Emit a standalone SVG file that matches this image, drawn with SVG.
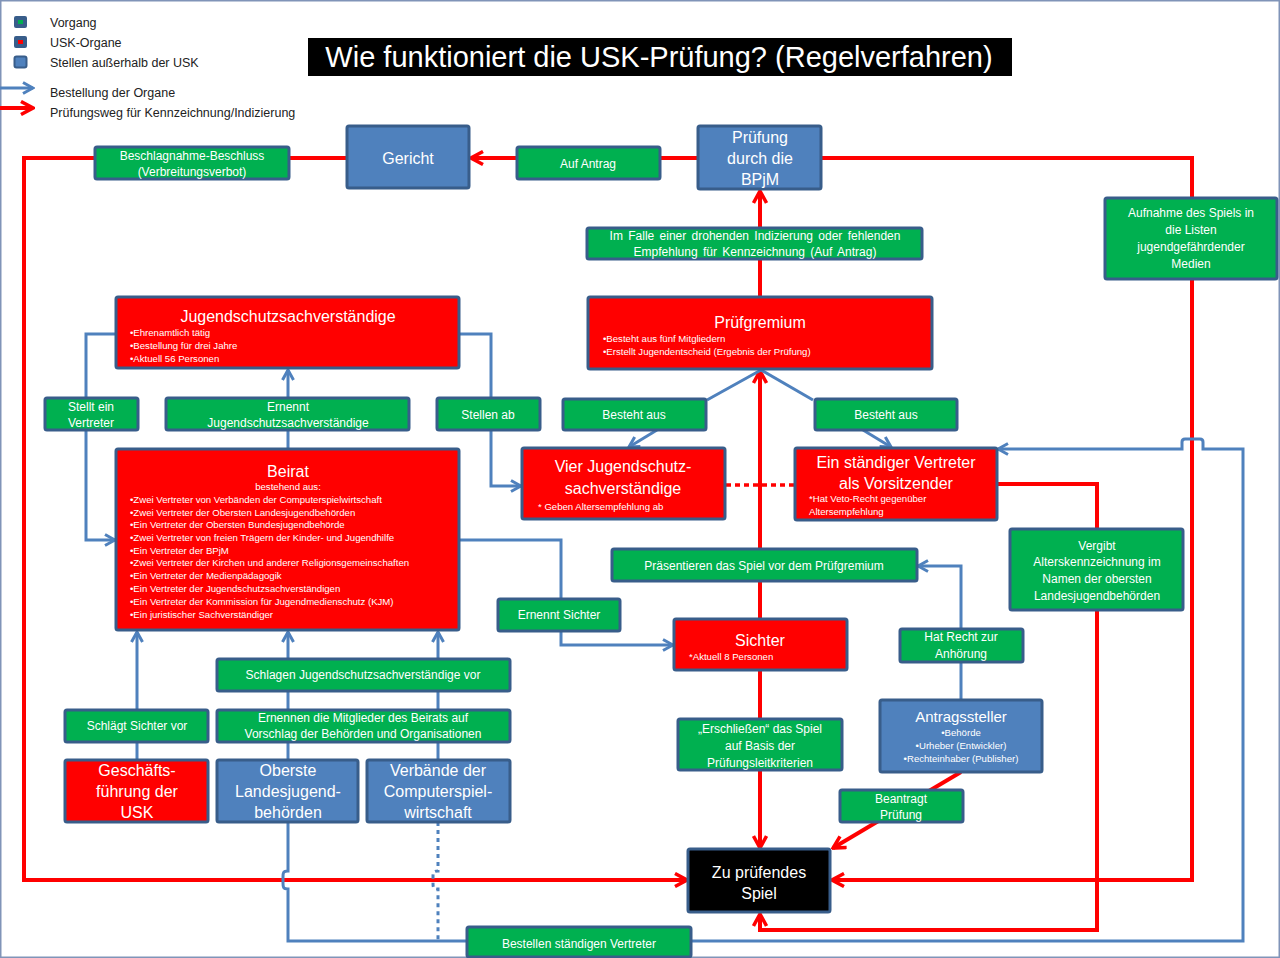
<svg xmlns="http://www.w3.org/2000/svg" width="1280" height="958" viewBox="0 0 1280 958">
<defs>
<marker id="ab" viewBox="0 0 14 14" refX="12" refY="7" markerWidth="14" markerHeight="14" markerUnits="userSpaceOnUse" orient="auto"><path d="M2,1.5 L12,7 L2,12.5" fill="none" stroke="#4F81BD" stroke-width="3"/></marker>
<marker id="ar" viewBox="0 0 16 16" refX="14" refY="8" markerWidth="16" markerHeight="16" markerUnits="userSpaceOnUse" orient="auto"><path d="M2,1.5 L14,8 L2,14.5" fill="none" stroke="#FF0000" stroke-width="3.5"/></marker>
<style>
text{font-family:"Liberation Sans",Arial,sans-serif;fill:#FFFFFF}
.g{fill:#00B050;stroke:#385D8A;stroke-width:3}
.r{fill:#FF0000;stroke:#385D8A;stroke-width:3}
.b{fill:#4F81BD;stroke:#385D8A;stroke-width:3}
.k{fill:#000000;stroke:#385D8A;stroke-width:3}
.t12{font-size:12px;text-anchor:middle}
.t16{font-size:16px;text-anchor:middle}
.s9{font-size:9.6px}
.lg{font-size:12.5px;fill:#222222}
.rl{fill:none;stroke:#FF0000;stroke-width:4}
.bl{fill:none;stroke:#4F81BD;stroke-width:3}
</style>
</defs>
<rect x="0.5" y="0.5" width="1279" height="957" fill="#FFFFFF" stroke="#8094B8" stroke-width="2"/>

<g id="legend">
<rect x="14" y="16" width="13" height="12" rx="2" fill="#385D8A"/><rect x="18" y="20" width="5" height="4" fill="#00B050"/>
<rect x="14" y="36" width="13" height="12" rx="2" fill="#385D8A"/><rect x="18" y="40" width="5" height="4" fill="#FF0000"/>
<rect x="14.5" y="56.5" width="12" height="11" rx="2" fill="#4F81BD" stroke="#385D8A" stroke-width="2"/>
<text class="lg" x="50" y="27">Vorgang</text>
<text class="lg" x="50" y="47">USK-Organe</text>
<text class="lg" x="50" y="67">Stellen außerhalb  der USK</text>
<path d="M0,88 L33,88" class="bl" marker-end="url(#ab)"/>
<path d="M0,108 L33,108" class="rl" marker-end="url(#ar)"/>
<text class="lg" x="50" y="97">Bestellung der Organe</text>
<text class="lg" x="50" y="117">Prüfungsweg für Kennzeichnung/Indizierung</text>
</g>

<g id="title">
<rect x="308" y="38" width="704" height="38" fill="#000000"/>
<text x="659" y="67" font-size="29" text-anchor="middle">Wie funktioniert die USK-Prüfung? (Regelverfahren)</text>
</g>

<g id="connectors">
<path class="rl" d="M698,158 L471,158" marker-end="url(#ar)"/>
<path class="rl" d="M347,158 L24,158 L24,880 L687,880" marker-end="url(#ar)"/>
<path class="rl" d="M821,158 L1192,158 L1192,880 L832,880" marker-end="url(#ar)"/>
<path class="rl" d="M760,297 L760,191" marker-end="url(#ar)"/>
<path class="rl" d="M760,619 L760,371" marker-end="url(#ar)"/>
<path class="rl" d="M760,670 L760,848" marker-end="url(#ar)"/>
<path class="rl" d="M961,772 L833,848" marker-end="url(#ar)"/>
<path class="rl" d="M997,484 L1097,484 L1097,930 L760,930 L760,914" marker-end="url(#ar)"/>
<path d="M726,485 L795,485" fill="none" stroke="#FF0000" stroke-width="3.5" stroke-dasharray="5,4"/>

<path class="bl" d="M116,334 L86,334 L86,540 L115,540" marker-end="url(#ab)"/>
<path class="bl" d="M288,449 L288,370" marker-end="url(#ab)"/>
<path class="bl" d="M459,334 L491,334 L491,486 L521,486" marker-end="url(#ab)"/>
<path class="bl" d="M761,370 L707,400"/>
<path class="bl" d="M657,430 L629,447" marker-end="url(#ab)"/>
<path class="bl" d="M761,370 L813,400"/>
<path class="bl" d="M863,430 L891,447" marker-end="url(#ab)"/>
<path class="bl" d="M459,540 L561,540 L561,645 L673,645" marker-end="url(#ab)"/>
<path class="bl" d="M961,700 L961,566 L918,566" marker-end="url(#ab)"/>
<path class="bl" d="M137,760 L137,632" marker-end="url(#ab)"/>
<path class="bl" d="M288,760 L288,632" marker-end="url(#ab)"/>
<path class="bl" d="M438,760 L438,632" marker-end="url(#ab)"/>
<path class="bl" d="M288,822 L288,871 C283,871 283,873 283,877 L283,883 C283,887 283,889 288,889 L288,941 L1243,941 L1243,449 L1203,449 L1203,442 Q1203,439 1200,439 L1185,439 Q1182,439 1182,442 L1182,449 L998,449" marker-end="url(#ab)"/>
<path class="bl" d="M438,822 L438,871 C433,871 433,873 433,877 L433,883 C433,887 433,889 438,889 L438,941" stroke-dasharray="4,4"/>
</g>

<g id="gericht"><rect class="b" x="347" y="126" width="122" height="62" rx="2"/><text class="t16" x="408" y="164">Gericht</text></g>
<g id="beschlagnahme"><rect class="g" x="95" y="147" width="194" height="32" rx="2"/><text class="t12" x="192" y="160">Beschlagnahme-Beschluss</text><text class="t12" x="192" y="176">(Verbreitungsverbot)</text></g>
<g id="auf-antrag"><rect class="g" x="517" y="147" width="143" height="32" rx="2"/><text class="t12" x="588" y="168">Auf Antrag</text></g>
<g id="bpjm"><rect class="b" x="698" y="126" width="123" height="63" rx="2"/><text class="t16" x="760" y="143">Prüfung</text><text class="t16" x="760" y="164">durch die</text><text class="t16" x="760" y="185">BPjM</text></g>
<g id="im-falle"><rect class="g" x="587" y="228" width="335" height="31" rx="2"/><text class="t12" x="755" y="240" word-spacing="2">Im Falle einer drohenden Indizierung oder fehlenden</text><text class="t12" x="755" y="256" word-spacing="2">Empfehlung für Kennzeichnung (Auf Antrag)</text></g>
<g id="aufnahme"><rect class="g" x="1105" y="198" width="172" height="81" rx="2"/><text class="t12" x="1191" y="217">Aufnahme  des Spiels  in</text><text class="t12" x="1191" y="234">die Listen</text><text class="t12" x="1191" y="251">jugendgefährdender</text><text class="t12" x="1191" y="268">Medien</text></g>

<g id="jugendschutzsachverstaendige"><rect class="r" x="116" y="297" width="343" height="71" rx="2"/><text class="t16" x="288" y="322">Jugendschutzsachverständige</text><text class="s9" x="130" y="336">•Ehrenamtlich tätig</text><text class="s9" x="130" y="349">•Bestellung für drei Jahre</text><text class="s9" x="130" y="362">•Aktuell 56 Personen</text></g>
<g id="stellt-ein-vertreter"><rect class="g" x="45" y="398" width="93" height="32" rx="2"/><text class="t12" x="91" y="411">Stellt ein</text><text class="t12" x="91" y="427">Vertreter</text></g>
<g id="ernennt-jss"><rect class="g" x="166" y="398" width="243" height="32" rx="2"/><text class="t12" x="288" y="411">Ernennt</text><text class="t12" x="288" y="427">Jugendschutzsachverständige</text></g>
<g id="stellen-ab"><rect class="g" x="437" y="398" width="103" height="32" rx="2"/><text class="t12" x="488" y="419">Stellen ab</text></g>

<g id="pruefgremium"><rect class="r" x="588" y="297" width="344" height="72" rx="2"/><text class="t16" x="760" y="328">Prüfgremium</text><text class="s9" x="603" y="342">•Besteht aus fünf Mitgliedern</text><text class="s9" x="603" y="355">•Erstellt Jugendentscheid (Ergebnis der Prüfung)</text></g>
<g id="besteht-aus-1"><rect class="g" x="563" y="399" width="143" height="31" rx="2"/><text class="t12" x="634" y="419">Besteht aus</text></g>
<g id="besteht-aus-2"><rect class="g" x="815" y="399" width="142" height="31" rx="2"/><text class="t12" x="886" y="419">Besteht aus</text></g>
<g id="vier-jss"><rect class="r" x="522" y="448" width="203" height="71" rx="2"/><text class="t16" x="623" y="472">Vier Jugendschutz-</text><text class="t16" x="623" y="494">sachverständige</text><text class="s9" x="538" y="510">* Geben Altersempfehlung ab</text></g>
<g id="staendiger-vertreter"><rect class="r" x="795" y="448" width="202" height="72" rx="2"/><text class="t16" x="896" y="468">Ein ständiger Vertreter</text><text class="t16" x="896" y="489">als Vorsitzender</text><text class="s9" x="809" y="502">*Hat Veto-Recht gegenüber</text><text class="s9" x="809" y="515">Altersempfehlung</text></g>

<g id="beirat"><rect class="r" x="116" y="449" width="343" height="181" rx="2"/><text class="t16" x="288" y="477">Beirat</text><text x="288" y="490" font-size="9.6" text-anchor="middle">bestehend aus:</text>
<text class="s9" x="130" y="503">•Zwei Vertreter von Verbänden der Computerspielwirtschaft</text>
<text class="s9" x="130" y="516">•Zwei Vertreter der Obersten Landesjugendbehörden</text>
<text class="s9" x="130" y="528">•Ein Vertreter der Obersten Bundesjugendbehörde</text>
<text class="s9" x="130" y="541">•Zwei Vertreter von freien Trägern der Kinder- und Jugendhilfe</text>
<text class="s9" x="130" y="554">•Ein Vertreter der BPjM</text>
<text class="s9" x="130" y="566">•Zwei Vertreter der Kirchen und anderer Religionsgemeinschaften</text>
<text class="s9" x="130" y="579">•Ein Vertreter der Medienpädagogik</text>
<text class="s9" x="130" y="592">•Ein Vertreter der Jugendschutzsachverständigen</text>
<text class="s9" x="130" y="605">•Ein Vertreter der Kommission für Jugendmedienschutz (KJM)</text>
<text class="s9" x="130" y="618">•Ein juristischer Sachverständiger</text></g>

<g id="praesentieren"><rect class="g" x="612" y="549" width="305" height="32" rx="2"/><text class="t12" x="764" y="570">Präsentieren das Spiel vor dem Prüfgremium</text></g>
<g id="vergibt"><rect class="g" x="1010" y="529" width="173" height="81" rx="2"/><text class="t12" x="1097" y="550">Vergibt</text><text class="t12" x="1097" y="566">Alterskennzeichnung  im</text><text class="t12" x="1097" y="583">Namen der obersten</text><text class="t12" x="1097" y="600">Landesjugendbehörden</text></g>
<g id="ernennt-sichter"><rect class="g" x="498" y="599" width="122" height="32" rx="2"/><text class="t12" x="559" y="619">Ernennt Sichter</text></g>
<g id="sichter"><rect class="r" x="674" y="619" width="173" height="51" rx="2"/><text class="t16" x="760" y="646">Sichter</text><text class="s9" x="689" y="660">*Aktuell 8 Personen</text></g>
<g id="hat-recht"><rect class="g" x="900" y="629" width="123" height="33" rx="2"/><text class="t12" x="961" y="641">Hat Recht zur</text><text class="t12" x="961" y="658">Anhörung</text></g>
<g id="schlagen"><rect class="g" x="217" y="659" width="293" height="32" rx="2"/><text class="t12" x="363" y="679">Schlagen Jugendschutzsachverständige  vor</text></g>
<g id="antragssteller"><rect class="b" x="880" y="700" width="162" height="72" rx="2"/><text x="961" y="722" font-size="15" text-anchor="middle">Antragssteller</text><text class="s9" x="961" y="736" text-anchor="middle">•Behörde</text><text class="s9" x="961" y="749" text-anchor="middle">•Urheber (Entwickler)</text><text class="s9" x="961" y="762" text-anchor="middle">•Rechteinhaber (Publisher)</text></g>
<g id="schlaegt-sichter"><rect class="g" x="65" y="710" width="143" height="32" rx="2"/><text class="t12" x="137" y="730">Schlägt Sichter  vor</text></g>
<g id="ernennen-mitglieder"><rect class="g" x="217" y="710" width="293" height="32" rx="2"/><text class="t12" x="363" y="722">Ernennen die Mitglieder des Beirats auf</text><text class="t12" x="363" y="738">Vorschlag der Behörden und Organisationen</text></g>
<g id="erschliessen"><rect class="g" x="678" y="719" width="164" height="51" rx="2"/><text class="t12" x="760" y="733">„Erschließen“ das Spiel</text><text class="t12" x="760" y="750">auf Basis der</text><text class="t12" x="760" y="767">Prüfungsleitkriterien</text></g>
<g id="geschaeftsfuehrung"><rect class="r" x="65" y="760" width="143" height="62" rx="2"/><text class="t16" x="137" y="776">Geschäfts-</text><text class="t16" x="137" y="797">führung der</text><text class="t16" x="137" y="818">USK</text></g>
<g id="oberste"><rect class="b" x="217" y="760" width="141" height="62" rx="2"/><text class="t16" x="288" y="776">Oberste</text><text class="t16" x="288" y="797">Landesjugend-</text><text class="t16" x="288" y="818">behörden</text></g>
<g id="verbaende"><rect class="b" x="367" y="760" width="143" height="62" rx="2"/><text class="t16" x="438" y="776">Verbände der</text><text class="t16" x="438" y="797">Computerspiel-</text><text class="t16" x="438" y="818">wirtschaft</text></g>
<g id="beantragt"><rect class="g" x="840" y="790" width="123" height="32" rx="2"/><text class="t12" x="901" y="803">Beantragt</text><text class="t12" x="901" y="819">Prüfung</text></g>
<g id="spiel"><rect class="k" x="688" y="849" width="142" height="63" rx="2"/><text class="t16" x="759" y="878">Zu prüfendes</text><text class="t16" x="759" y="899">Spiel</text></g>
<g id="bestellen"><rect class="g" x="467" y="927" width="224" height="30" rx="2"/><text class="t12" x="579" y="948">Bestellen ständigen Vertreter</text></g>
</svg>
